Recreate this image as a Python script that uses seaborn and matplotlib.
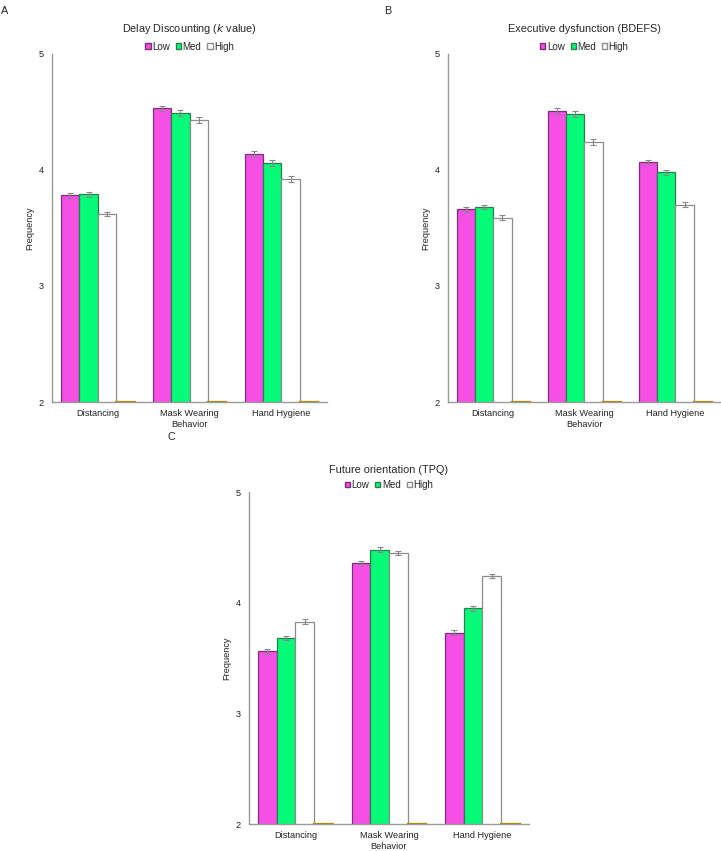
import matplotlib
matplotlib.use("Agg")
import matplotlib.pyplot as plt
import numpy as np
import pandas as pd
import seaborn as sns

behaviors = ["Distancing", "Mask Wearing", "Hand Hygiene"]
groups = ["Low", "Med", "High", " "]

# mean frequency per group (Low, Med, High) for each behavior
delay_low = [3.78, 4.53, 4.14]
delay_med = [3.79, 4.49, 4.06]
delay_high = [3.62, 4.43, 3.92]
delay_err = [0.02, 0.025, 0.025]

exec_low = [3.66, 4.51, 4.07]
exec_med = [3.68, 4.48, 3.98]
exec_high = [3.59, 4.24, 3.70]
exec_err = [0.02, 0.025, 0.02]

future_low = [3.56, 4.36, 3.73]
future_med = [3.68, 4.48, 3.95]
future_high = [3.83, 4.45, 4.24]
future_err = [0.02, 0.02, 0.02]

# empty fourth series that only shows as a line on the baseline
blank = [2.0, 2.0, 2.0]

fills = ["#f54fe4", "#05fb78", "#ffffff", "#ffffff"]
edges = ["#7b2f79", "#2f7d4c", "#8c8c8c", "#b8860b"]


def draw_panel(ax, low, med, high, err, title, title_pad=16):
    df = pd.DataFrame({
        "Behavior": behaviors * 4,
        "Group": [g for g in groups for _ in behaviors],
        "Frequency": low + med + high + blank,
    })
    sns.barplot(data=df, x="Behavior", y="Frequency", hue="Group",
                hue_order=groups, order=behaviors, palette=fills,
                errorbar=None, width=0.8, gap=0, legend=True, ax=ax,
                saturation=1)
    for i, cont in enumerate(ax.containers):
        for bar in cont:
            bar.set_edgecolor(edges[i])
            bar.set_linewidth(0.9)
            if i == 3:
                # only the top edge shows, on top of the bottom spine
                bar.set_zorder(4)
                bar.set_facecolor("none")
                bar.set_linewidth(1.6)
    for i, vals in enumerate([low, med, high]):
        cont = ax.containers[i]
        xs = [b.get_x() + b.get_width() / 2 for b in cont]
        ax.errorbar(xs, vals, yerr=err, fmt="none", ecolor="#888888",
                    elinewidth=0.8, capsize=2, capthick=0.8, zorder=5)

    handles, labels = ax.get_legend_handles_labels()
    ax.get_legend().remove()
    for h, e in zip(handles[:3], edges[:3]):
        h.set_edgecolor(e)
    ax.legend(handles[:3], labels[:3], ncol=3, loc="lower center",
              bbox_to_anchor=(0.5, 0.995), frameon=False, fontsize=7,
              handlelength=0.55, handleheight=0.55, handletextpad=0.15,
              columnspacing=0.6, borderaxespad=0.0)
    ax.set_title(title, fontsize=7.8, pad=title_pad)

    ax.set_ylim(2, 5)
    ax.set_xlim(-0.5, 2.5)
    ax.set_yticks([2, 3, 4, 5])
    ax.set_yticklabels(["2", "3", "4", "5"])
    ax.tick_params(axis="y", length=0, labelsize=6.6, colors="#222222", pad=6)
    ax.tick_params(axis="x", length=0, labelsize=6.6, colors="#222222", pad=5)
    ax.set_xlabel("Behavior", fontsize=6.6, color="#222222", labelpad=1.5)
    ax.set_ylabel("Frequency", fontsize=6.6, color="#222222", labelpad=3)
    for side in ["top", "right"]:
        ax.spines[side].set_visible(False)
    for side in ["left", "bottom"]:
        ax.spines[side].set_color("#9a9a9a")
        ax.spines[side].set_linewidth(1.0)


sns.set_style("white")
plt.rcParams["font.family"] = ["Liberation Sans", "DejaVu Sans"]

fig = plt.figure(figsize=(7.21, 8.51), dpi=100)
ax_a = fig.add_axes([0.072, 0.5276, 0.382, 0.409])
ax_b = fig.add_axes([0.621, 0.5276, 0.379, 0.409])
ax_c = fig.add_axes([0.345, 0.0317, 0.389, 0.390])

draw_panel(ax_a, delay_low, delay_med, delay_high, delay_err,
           "Delay Discounting ($\\mathit{k}$ value)")
draw_panel(ax_b, exec_low, exec_med, exec_high, exec_err,
           "Executive dysfunction (BDEFS)")
draw_panel(ax_c, future_low, future_med, future_high, future_err,
           "Future orientation (TPQ)", title_pad=14)

fig.text(0.002, 0.993, "A", fontsize=7.8, va="top", ha="left")
fig.text(0.533, 0.993, "B", fontsize=7.8, va="top", ha="left")
fig.text(0.233, 0.492, "C", fontsize=7.8, va="top", ha="left")

fig.savefig("out.png", dpi=100)
